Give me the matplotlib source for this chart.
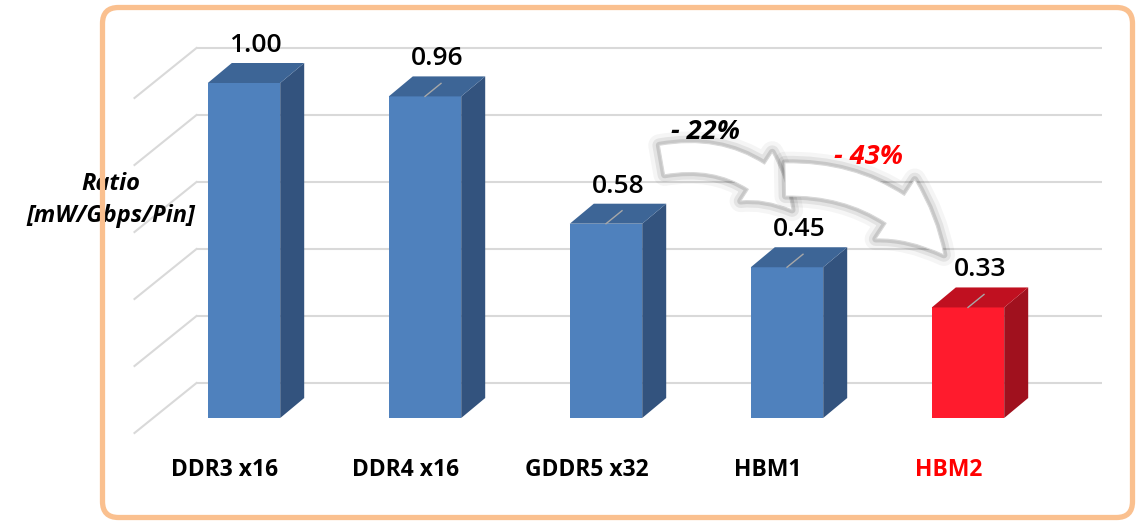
import matplotlib.pyplot as plt
from matplotlib.patches import Polygon, FancyBboxPatch, FancyArrowPatch
from matplotlib.transforms import IdentityTransform
import matplotlib.patheffects as pe

categories = ['DDR3 x16', 'DDR4 x16', 'GDDR5 x32', 'HBM1', 'HBM2']
ratios = [1.00, 0.96, 0.58, 0.45, 0.33]
value_labels = ['1.00', '0.96', '0.58', '0.45', '0.33']
highlight = [False, False, False, False, True]
grid_ticks = [0.0, 0.2, 0.4, 0.6, 0.8, 1.0]
drop_labels = ['- 22%', '- 43%']

plt.rcParams['font.family'] = ['Open Sans', 'DejaVu Sans']

BLUE = ('#4F81BD', '#3D6596', '#33537E')   # front, top, side
RED = ('#FF1B2D', '#C01020', '#A0111E')
GRID = '#D9D9D9'

fig = plt.figure(figsize=(11.4, 5.24), dpi=100)
ax = fig.add_axes([0, 0, 1, 1])
# one category = 181 px, one ratio unit = 335 px
ax.set_xlim(-244 / 181, 896 / 181)
ax.set_ylim(-106 / 335, 418 / 335)
ax.axis('off')

# fake 3d geometry
bw = 0.40
ddx, ddy = 24 / 181, 20 / 335          # bar depth
wall_dx, wall_dy = 43 / 181, 35 / 335  # bar front -> back wall
floor_dx, floor_dy = -19 / 181, -15 / 335  # bar front -> floor front
n = len(categories)

# back wall grid + left side diagonals
for g in grid_ticks:
    ax.plot([-0.5 + wall_dx, n - 0.5 + wall_dx], [g + wall_dy, g + wall_dy],
            color=GRID, lw=1.5, zorder=1, solid_capstyle='butt')
    ax.plot([-0.5 + floor_dx, -0.5 + wall_dx], [g + floor_dy, g + wall_dy],
            color=GRID, lw=1.5, zorder=1)

# bars
for i, (v, hl) in enumerate(zip(ratios, highlight)):
    front, top, side = RED if hl else BLUE
    x0, x1 = i - bw / 2, i + bw / 2
    ax.bar(i, v, width=bw, color=front, zorder=3)
    ax.add_patch(Polygon([(x1, 0), (x1, v), (x1 + ddx, v + ddy), (x1 + ddx, ddy)],
                         closed=True, fc=side, ec='none', zorder=3))
    ax.add_patch(Polygon([(x0, v), (x1, v), (x1 + ddx, v + ddy), (x0 + ddx, v + ddy)],
                         closed=True, fc=top, ec='none', zorder=3))
    if i > 0:
        ax.plot([i, i + 16 / 181], [v, v + 13 / 335], color='#A8A8A8', lw=1, zorder=4)
    ax.text(i + 0.065, v + ddy + 0.015, value_labels[i], ha='center', va='bottom',
            fontsize=19, fontweight='semibold', color='black', zorder=6)
    ax.text(i + floor_dx, -0.155, categories[i], ha='center', va='center',
            fontsize=16.5, fontweight='bold', color='#FF0000' if hl else 'black', zorder=6)

# y label
ax.text(-0.735, 0.651, 'Ratio\n[mW/Gbps/Pin]', ha='center', va='center',
        multialignment='center', fontsize=17, fontweight='bold', fontstyle='italic',
        linespacing=1.45, zorder=6)

# curved white arrows with soft shadow
glow = [pe.Stroke(linewidth=16, foreground='#000000', alpha=0.04),
        pe.Stroke(linewidth=10, foreground='#000000', alpha=0.07),
        pe.Stroke(linewidth=5, foreground='#000000', alpha=0.12),
        pe.Normal()]
arrows = [((2.309, 0.770), (3.028, 0.621)), ((2.990, 0.712), (3.867, 0.487))]
styles = ['simple,head_length=1.3,head_width=1.55,tail_width=0.8',
          'simple,head_length=1.5,head_width=1.6,tail_width=0.75']
for (a, b), rad, st, ms in zip(arrows, [-0.3, -0.25], styles, [27, 32]):
    arr = FancyArrowPatch(a, b, connectionstyle=f'arc3,rad={rad}', arrowstyle=st,
                          mutation_scale=ms, fc='white', ec='#D8D8D8', lw=0.8,
                          shrinkA=0, shrinkB=0, zorder=5)
    arr.set_path_effects(glow)
    ax.add_patch(arr)

ax.text(2.552, 0.854, drop_labels[0], ha='center', va='center', fontsize=19.5,
        fontweight='bold', fontstyle='italic', color='black', zorder=6)
ax.text(3.448, 0.779, drop_labels[1], ha='center', va='center', fontsize=19.5,
        fontweight='bold', fontstyle='italic', color='#FF0000', zorder=6)

# rounded orange frame (pixel coords)
frame = FancyBboxPatch((102.5, 6.5), 1030, 510, boxstyle='round,pad=0,rounding_size=16',
                       transform=IdentityTransform(), fill=False, ec='#FAC08F', lw=3.8,
                       zorder=0)
fig.patches.append(frame)

fig.savefig('out.png', dpi=100)
